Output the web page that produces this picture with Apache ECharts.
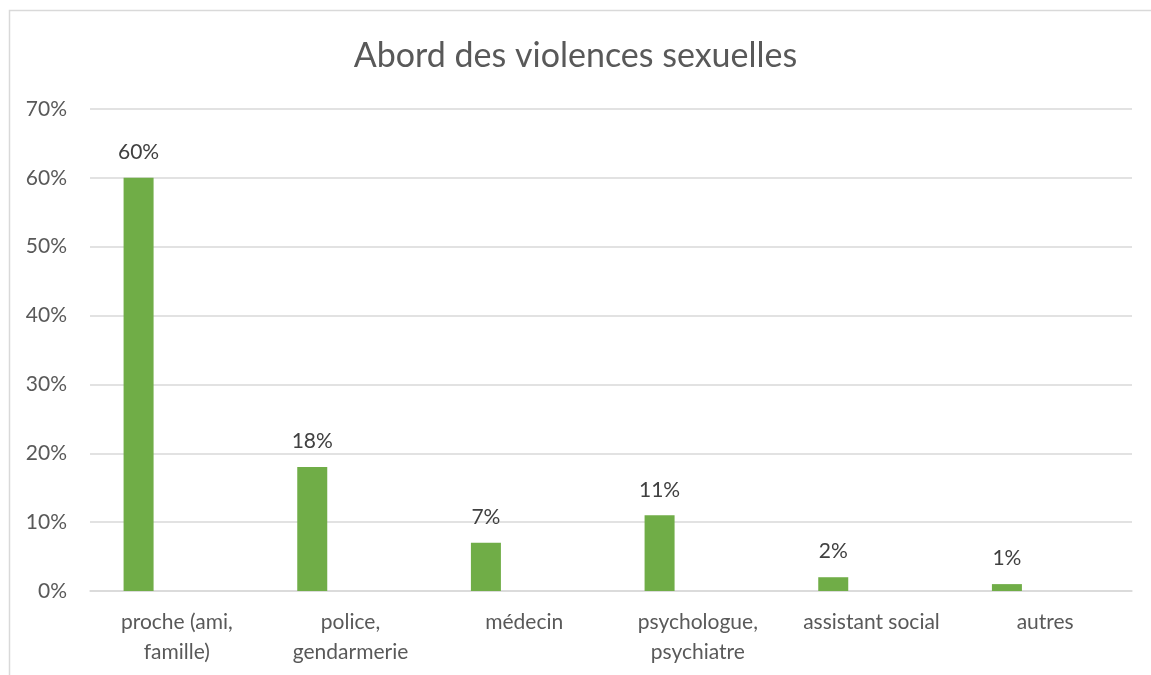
<!DOCTYPE html>
<html>
<head>
<meta charset="utf-8">
<script src="https://cdn.jsdelivr.net/npm/echarts@6/dist/echarts.min.js"></script>
<style>
html,body{margin:0;padding:0;background:#fff;}
#chart{width:1151px;height:675px;}
</style>
</head>
<body>
<div id="chart"></div>
<script>
const titleText = 'Abord des violences sexuelles';
const categories = ['proche (ami, famille)', 'police, gendarmerie', 'médecin', 'psychologue, psychiatre', 'assistant social', 'autres'];
const values = [60, 18, 7, 11, 2, 1];
const emptySeries = [null, null, null, null, null, null];
const yTicks = { min: 0, max: 70, interval: 10 };

const FONT = 'Lato, "Open Sans", sans-serif';
const chart = echarts.init(document.getElementById('chart'), null, { renderer: 'canvas' });
chart.setOption({
  animation: false,
  backgroundColor: '#ffffff',
  title: {
    text: titleText,
    left: 'center',
    top: 34,
    textStyle: { fontFamily: FONT, fontSize: 34, fontWeight: 'normal', color: '#595959' }
  },
  graphic: [{
    type: 'rect',
    shape: { x: 9.5, y: 10.5, width: 1150, height: 700 },
    style: { fill: 'none', stroke: '#d9d9d9', lineWidth: 1.5 },
    silent: true
  }],
  grid: { left: 90, right: 19, top: 109, bottom: 84, containLabel: false },
  xAxis: {
    type: 'category',
    data: categories,
    axisLine: { show: true, lineStyle: { color: '#d9d9d9', width: 1.5 } },
    axisTick: { show: false },
    axisLabel: {
      fontFamily: FONT, fontSize: 21, color: '#595959', lineHeight: 30, margin: 16,
      interval: 0,
      formatter: v => v.replace(', ', ',\n')
    }
  },
  yAxis: {
    type: 'value',
    min: yTicks.min, max: yTicks.max, interval: yTicks.interval,
    axisLine: { show: false },
    axisTick: { show: false },
    splitLine: { lineStyle: { color: '#d9d9d9', width: 1.5 } },
    axisLabel: { fontFamily: FONT, fontSize: 21, color: '#595959', margin: 23, formatter: '{value}%' }
  },
  series: [{
    type: 'bar',
    data: values,
    barWidth: 30,
    barGap: '155%',
    itemStyle: { color: '#70ad47' },
    label: {
      show: true, position: 'top', distance: 15,
      fontFamily: FONT, fontSize: 21, color: '#404040',
      formatter: p => p.value + '%'
    }
  }, {
    type: 'bar',
    data: emptySeries,
    barWidth: 30,
    itemStyle: { color: '#ed7d31' }
  }]
});
</script>
</body>
</html>
